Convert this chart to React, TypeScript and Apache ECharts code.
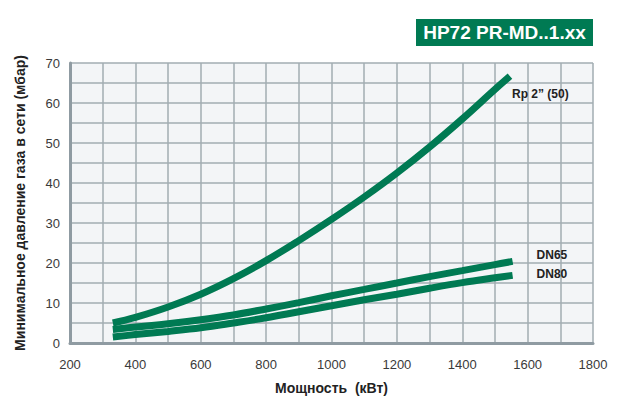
import React, { useEffect, useRef } from "react";
import * as echarts from "echarts";

const title = "HP72 PR-MD..1.xx";
const xName = "Мощность  (кВт)";
const yName = "Минимальное давление газа в сети (мбар)";

const rpX = [331, 400, 500, 600, 700, 800, 900, 1000, 1100, 1200, 1300, 1400, 1500, 1546];
const rpY = [5.0, 6.4, 9.0, 12.2, 16.1, 20.6, 25.6, 30.9, 36.5, 42.5, 49.0, 56.0, 63.4, 66.7];

const dnX = [331, 400, 500, 600, 700, 800, 900, 1000, 1100, 1200, 1300, 1400, 1500, 1554];
const dn65Y = [3.4, 4.0, 4.8, 5.8, 7.0, 8.5, 10.1, 11.8, 13.4, 15.0, 16.6, 18.1, 19.6, 20.4];
const dn80Y = [1.5, 2.1, 2.9, 3.8, 5.0, 6.3, 7.8, 9.3, 10.8, 12.2, 13.7, 15.1, 16.3, 16.9];

const seriesNames = ["Rp 2” (50)", "DN65", "DN80"];

const GREEN = "#007a53";

function zip(xs: number[], ys: number[]) {
  return xs.map((x, i) => [x, ys[i]]);
}

export default function App() {
  const ref = useRef<HTMLDivElement>(null);
  useEffect(() => {
    if (!ref.current) return;
    const chart = echarts.init(ref.current, undefined, { renderer: "svg" });
    const font = "'Liberation Sans', Arial, Helvetica, sans-serif";
    const mkSeries = (name: string, data: number[][], offset: number[]) => ({
      type: "line",
      name,
      data,
      smooth: 0.4,
      symbol: "none",
      lineStyle: { color: GREEN, width: 7, cap: "butt" },
      endLabel: {
        show: true,
        formatter: name,
        offset,
        color: "#222",
        fontSize: 12,
        fontWeight: "bold",
        fontFamily: font,
      },
      z: 3,
    });
    chart.setOption({
      animation: false,
      textStyle: { fontFamily: font },
      grid: {
        left: 70,
        right: 33,
        top: 63,
        bottom: 58,
        show: true,
        backgroundColor: "#f3f5f7",
        borderWidth: 0,
      },
      xAxis: {
        type: "value",
        min: 200,
        max: 1800,
        interval: 100,
        name: xName,
        nameLocation: "middle",
        nameGap: 38,
        nameTextStyle: { fontSize: 14, fontWeight: "bold", color: "#222", fontFamily: font },
        axisLine: { show: true, lineStyle: { color: "#8f9ba2", width: 3 } },
        axisTick: { show: false },
        axisLabel: {
          color: "#3a3a3a",
          fontSize: 13,
          margin: 15,
          formatter: (v: number) => (v % 200 === 0 ? String(v) : ""),
        },
        splitLine: { show: true, lineStyle: { color: "#a2acb2", width: 1.5 } },
      },
      yAxis: {
        type: "value",
        min: 0,
        max: 70,
        interval: 5,
        name: yName,
        nameLocation: "middle",
        nameGap: 43,
        nameTextStyle: { fontSize: 14, fontWeight: "bold", color: "#222", fontFamily: font },
        axisLine: { show: true, lineStyle: { color: "#8f9ba2", width: 3 } },
        axisTick: { show: false },
        axisLabel: {
          color: "#3a3a3a",
          fontSize: 13,
          margin: 10,
          formatter: (v: number) => (v % 10 === 0 ? String(v) : ""),
        },
        splitLine: { show: true, lineStyle: { color: "#a2acb2", width: 1.5 } },
      },
      graphic: [
        {
          type: "rect",
          shape: { x: 416, y: 19, width: 177, height: 27 },
          style: { fill: GREEN },
        },
        {
          type: "text",
          x: 504.5,
          y: 32.5,
          style: {
            text: title,
            fill: "#fff",
            font: `bold 19px ${font}`,
            align: "center",
            verticalAlign: "middle",
          },
        },
      ],
      series: [
        mkSeries(seriesNames[0], zip(rpX, rpY), [-6, 18]),
        mkSeries(seriesNames[1], zip(dnX, dn65Y), [16, -6]),
        mkSeries(seriesNames[2], zip(dnX, dn80Y), [16, -1]),
      ],
    });
    return () => chart.dispose();
  }, []);
  return (
    <div
      ref={ref}
      style={{ position: "fixed", left: 0, top: 0, width: 626, height: 401, background: "#fff" }}
    />
  );
}
